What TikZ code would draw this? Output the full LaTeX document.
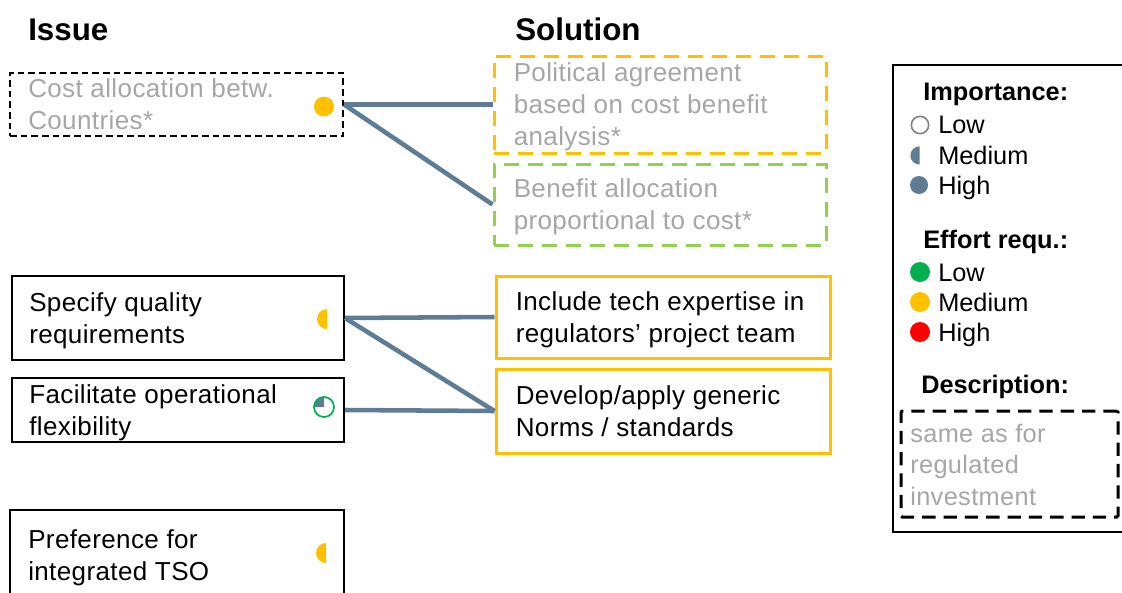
\documentclass[tikz,border=0pt]{standalone}
\usepackage{fontspec}
\setmainfont{Liberation Sans}
\newfontfamily\spacedfont[LetterSpace=1.5]{Liberation Sans}
\usetikzlibrary{fit,calc}
\definecolor{slate}{RGB}{94,125,148}
\definecolor{myorange}{RGB}{255,192,0}
\definecolor{lgreen}{RGB}{146,208,80}
\definecolor{dgreen}{RGB}{0,176,80}
\definecolor{myred}{RGB}{255,0,0}
\definecolor{txtgray}{RGB}{166,166,166}
\newcommand\mystr{\rule[-5.2pt]{0pt}{24pt}}
\begin{document}
\begin{tikzpicture}[x=0.75pt,y=-0.75pt,
  box/.style={inner sep=0pt, draw=black, line width=1.5pt},
  dbox/.style={box, dash pattern=on 5pt off 3pt},
  obox/.style={inner sep=0pt, draw=myorange, line width=2.25pt},
  dobox/.style={obox, dash pattern=on 11.5pt off 6.5pt},
  dgbox/.style={inner sep=0pt, draw=lgreen, line width=2.25pt, dash pattern=on 11.5pt off 6.5pt},
  body/.style={font=\spacedfont\fontsize{19.5}{24}\selectfont, inner sep=0pt, align=left, anchor=west},
  head/.style={font=\fontsize{23.5}{28}\selectfont\bfseries, inner sep=0pt, anchor=base west},
  lhead/.style={font=\fontsize{19}{23}\selectfont\bfseries, inner sep=0pt, anchor=base west},
  ltxt/.style={font=\fontsize{19}{23}\selectfont, inner sep=0pt, anchor=base west},
  gtxt/.style={font=\spacedfont\fontsize{19}{23}\selectfont, text=txtgray, inner sep=0pt, anchor=base west},
  link/.style={draw=slate, line width=3.4pt},
  dot/.style={circle, inner sep=0pt, minimum size=15pt},
]
\useasboundingbox (0,0) rectangle (1122,593);
\clip (0,0) rectangle (1122,593);

% headings
\node[head] (hissue) at (28,40) {Issue};
\node[head] (hsol) at (515,40) {Solution};

% issue boxes
\node[dbox, fit={(10,73) (343,136)}] (i1) {};
\node[body, text=txtgray] (i1t) at ($(i1.west)+(19,0)$) {\mystr Cost allocation betw.\\\mystr Countries*};
\node[dot, fill=myorange] (i1d) at (324,106.5) {};

\node[box, fit={(12,276) (344,360)}] (i2) {};
\node[body] (i2t) at ($(i2.west)+(18,0)$) {\mystr Specify quality\\\mystr requirements};
\fill[myorange] (327,319) ++(90:7.5pt) arc[start angle=90, end angle=270, radius=7.5pt] -- cycle;

\node[box, fit={(12,378) (344,442)}] (i3) {};
\node[body] (i3t) at ($(i3.west)+(18,0)$) {\mystr Facilitate operational\\\mystr flexibility};
\fill[slate] (324,407) -- ++(90:7.5pt) arc[start angle=90, end angle=180, radius=7.5pt] -- cycle;
\node[circle, draw=dgreen, line width=1.3pt, inner sep=0pt, minimum size=15pt] (i3d) at (324,407) {};

\node[box, fit={(10,510) (344,600)}] (i4) {};
\node[body] (i4t) at ($(i4.west)+(19,0)$) {\mystr Preference for\\\mystr integrated TSO};
\fill[myorange] (326,553) ++(90:7.5pt) arc[start angle=90, end angle=270, radius=7.5pt] -- cycle;

% solution boxes
\node[dobox, fit={(494,56) (826,153)}] (s1) {};
\node[body, text=txtgray] (s1t) at ($(s1.west)+(21,0)$) {\mystr Political agreement\\\mystr based on cost benefit\\\mystr analysis*};
\node[dgbox, fit={(494,164) (826,245)}] (s2) {};
\node[body, text=txtgray] (s2t) at ($(s2.west)+(21,0)$) {\mystr Benefit allocation\\\mystr proportional to cost*};
\node[obox, fit={(496,276) (830,358)}] (s3) {};
\node[body] (s3t) at ($(s3.west)+(21,0)$) {\mystr Include tech expertise in\\\mystr regulators’ project team};
\node[obox, fit={(496,369) (830,453)}] (s4) {};
\node[body] (s4t) at ($(s4.west)+(21,0)$) {\mystr Develop/apply generic\\\mystr Norms / standards};

% connectors
\draw[link] (i1.east) -- (s1.west);
\draw[link] (i1.east) -- (s2.west);
\draw[link] (i2.east) -- (s3.west);
\draw[link] (i2.east) -- (s4.west);
\draw[link] (i3.east) -- (s4.west);

% legend
\node[box, fit={(893,65) (1140,532)}] (leg) {};
\node[lhead] (limp) at (923,100) {Importance:};
\node[circle, draw=black!50, line width=1.2pt, inner sep=0pt, minimum size=13pt] (lc1) at (920,125) {};
\node[ltxt] (l1) at (938,133) {Low};
\fill[slate] (919.5,155.5) ++(90:6.8pt) arc[start angle=90, end angle=270, radius=6.8pt] -- cycle;
\node[ltxt] (l2) at (938,164) {Medium};
\node[dot, fill=slate, minimum size=13.5pt] (lc3) at (919,185) {};
\node[ltxt] (l3) at (938,194) {High};

\node[lhead] (leff) at (923,248) {Effort requ.:};
\node[dot, fill=dgreen] (le1) at (920,272) {};
\node[ltxt] (l4) at (938,281) {Low};
\node[dot, fill=myorange] (le2) at (920,302) {};
\node[ltxt] (l5) at (938,311) {Medium};
\node[dot, fill=myred] (le3) at (920,332) {};
\node[ltxt] (l6) at (938,341) {High};

\node[lhead] (ldesc) at (921,393) {Description:};
\node[inner sep=0pt, draw=black, line width=2.25pt, dash pattern=on 10pt off 6pt, rounded corners=1pt, fit={(901,411) (1118,517)}] (ldbox) {};
\node[gtxt] (ld1) at (910,442) {same as for};
\node[gtxt] (ld2) at (910,473) {regulated};
\node[gtxt] (ld3) at (910,505) {investment};
\end{tikzpicture}
\end{document}
